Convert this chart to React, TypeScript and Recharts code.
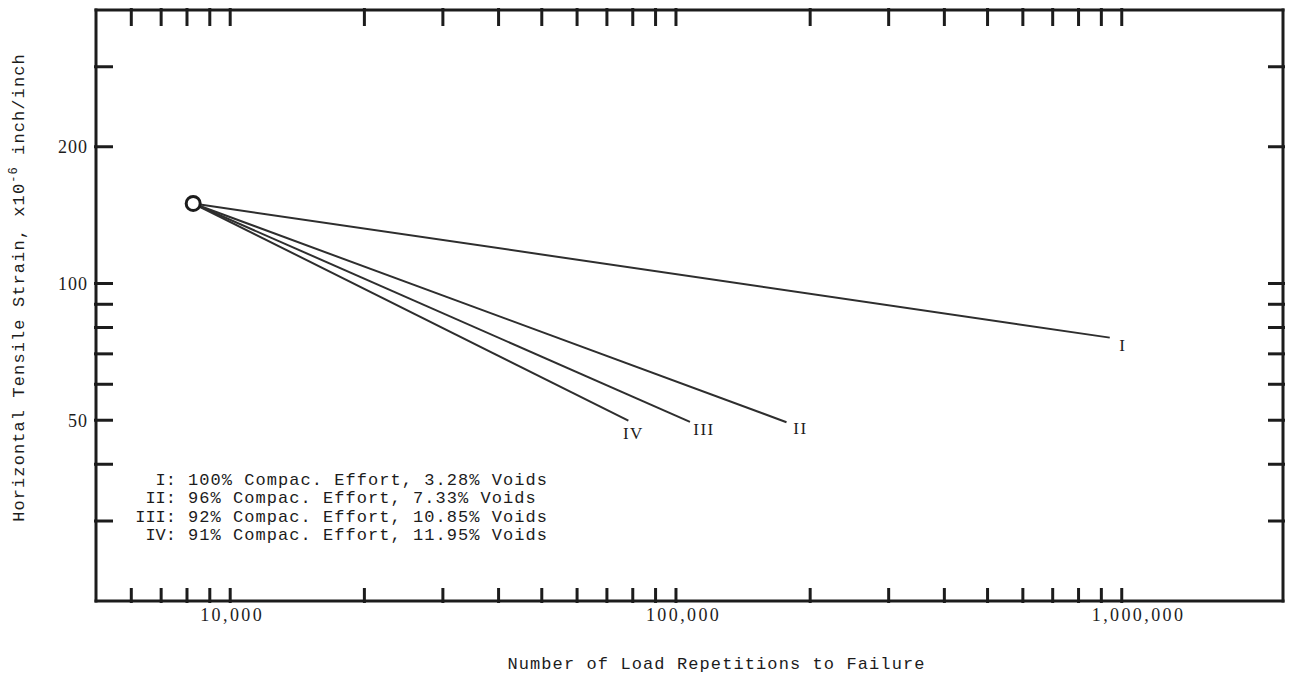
import { LineChart, Line, XAxis, YAxis, Legend } from 'recharts';

// fatigue lines, all starting from the same origin point
const seriesNames = ['I', 'II', 'III', 'IV'];
const compaction = ['100%', '96%', '92%', '91%'];
const voids = ['3.28%', '7.33%', '10.85%', '11.95%'];
const originReps = 8260;
const originStrain = 150;
const endReps = [940000, 177000, 107500, 78200];
const endStrain = [76, 49.5, 49.6, 49.9];

const xTicks = [
  6000, 7000, 8000, 9000, 10000, 20000, 30000, 40000, 50000, 60000, 70000, 80000, 90000,
  100000, 200000, 300000, 400000, 500000, 600000, 700000, 800000, 900000, 1000000,
];
const xLabelTicks = [10000, 100000, 1000000];
const yTicks = [30, 40, 50, 60, 70, 80, 90, 100, 200, 300];
const yLabelTicks = [50, 100, 200];

const series = seriesNames.map((name, i) => ({
  name,
  data: [
    { reps: originReps, strain: originStrain },
    { reps: endReps[i], strain: endStrain[i] },
  ],
}));

const X_DOMAIN = [5000, 2300000];
const Y_DOMAIN = [20, 400];
const INK = '#1c1c1c';
const LINE = '#2e2e2e';
const TICK_LEN = 17;
const MONO = '"Liberation Mono", "DejaVu Sans Mono", monospace';
const SERIF = '"Liberation Serif", "DejaVu Serif", serif';
// where each end label sits relative to its line end
const labelOffset = [[13, 7], [14, 6], [14, 7], [5, 12]];

const frame = { stroke: INK, strokeWidth: 3, strokeLinecap: 'square' as const };

const BottomTick = (p: any) => {
  const v = p.payload.value;
  return (
    <g>
      <line x1={p.x} y1={p.y} x2={p.x} y2={p.y - TICK_LEN + 2} stroke={INK} strokeWidth={3} />
      {xLabelTicks.includes(v) && (
        <text x={p.x - 30} y={p.y + 18} fontFamily={SERIF} fontSize={18} letterSpacing={2.4} fill={INK}>
          {v.toLocaleString('en-US')}
        </text>
      )}
    </g>
  );
};

const TopTick = (p: any) => (
  <line x1={p.x} y1={p.y} x2={p.x} y2={p.y + TICK_LEN + 1} stroke={INK} strokeWidth={3} />
);

const LeftTick = (p: any) => {
  const v = p.payload.value;
  return (
    <g>
      <line x1={p.x} y1={p.y} x2={p.x + TICK_LEN + 2} y2={p.y} stroke={INK} strokeWidth={3} />
      {yLabelTicks.includes(v) && (
        <text x={p.x - 6} y={p.y} dy="0.35em" textAnchor="end" fontFamily={SERIF} fontSize={18} letterSpacing={1} fill={INK}>
          {v}
        </text>
      )}
    </g>
  );
};

const RightTick = (p: any) => (
  <line x1={p.x} y1={p.y} x2={p.x - TICK_LEN} y2={p.y} stroke={INK} strokeWidth={3} />
);

const XTitle = (p: any) => {
  const vb = p.viewBox;
  return (
    <text x={vb.x + vb.width / 2 + 27} y={vb.y + 62} dy="0.35em" textAnchor="middle" fontFamily={MONO} fontSize={17} letterSpacing={1.1} fill={INK}>
      Number of Load Repetitions to Failure
    </text>
  );
};

const YTitle = (p: any) => {
  const vb = p.viewBox;
  const cx = vb.x + 18;
  const cy = vb.y + vb.height / 2 - 18;
  return (
    <text x={cx} y={cy} dy="0.35em" textAnchor="middle" transform={`rotate(-90, ${cx}, ${cy})`} fontFamily={MONO} fontSize={17} letterSpacing={1.1} fill={INK}>
      <tspan>Horizontal Tensile Strain, x10</tspan>
      <tspan dy={-7} fontSize={12}>-6</tspan>
      <tspan dy={7}> inch/inch</tspan>
    </text>
  );
};

const EndLabel = (i: number) => (p: any) =>
  p.index === 1 ? (
    <text x={p.x + labelOffset[i][0]} y={p.y + labelOffset[i][1]} dy="0.35em" textAnchor="middle" fontFamily={SERIF} fontSize={17} letterSpacing={1.5} fill={INK}>
      {seriesNames[i]}
    </text>
  ) : null;

const LegendBox = () => (
  <div style={{ fontFamily: MONO, fontSize: 17, letterSpacing: 1.05, lineHeight: '18.3px', color: INK, whiteSpace: 'pre' }}>
    {seriesNames.map((name, i) => (
      <div key={name} style={{ display: 'flex' }}>
        <span style={{ width: 56, textAlign: 'right', letterSpacing: 0 }}>{name}:</span>
        <span style={{ marginLeft: 12 }}>
          {compaction[i]} Compac. Effort, {voids[i]} Voids
        </span>
      </div>
    ))}
  </div>
);

const App = () => (
  <div style={{ position: 'absolute', left: 0, top: 0, background: '#fff' }}>
    <LineChart width={1290} height={679} margin={{ top: 0, right: 0, bottom: 0, left: 0 }}>
      <XAxis
        xAxisId="b" dataKey="reps" type="number" scale="log" domain={X_DOMAIN} allowDataOverflow
        ticks={xTicks} interval={0} orientation="bottom" height={78}
        tickSize={0} tickLine={false} axisLine={frame} tick={(p: any) => <BottomTick {...p} />}
        label={XTitle}
      />
      <XAxis
        xAxisId="t" dataKey="reps" type="number" scale="log" domain={X_DOMAIN} allowDataOverflow
        ticks={xTicks} interval={0} orientation="top" height={10}
        tickSize={0} tickLine={false} axisLine={frame} tick={(p: any) => <TopTick {...p} />}
      />
      <YAxis
        yAxisId="l" dataKey="strain" type="number" scale="log" domain={Y_DOMAIN} allowDataOverflow
        ticks={yTicks} interval={0} orientation="left" width={96}
        tickSize={0} tickLine={false} axisLine={frame} tick={(p: any) => <LeftTick {...p} />}
        label={YTitle}
      />
      <YAxis
        yAxisId="r" dataKey="strain" type="number" scale="log" domain={Y_DOMAIN} allowDataOverflow
        ticks={yTicks} interval={0} orientation="right" width={7}
        tickSize={0} tickLine={false} axisLine={frame} tick={(p: any) => <RightTick {...p} />}
      />
      <Legend
        layout="vertical" align="center" verticalAlign="middle"
        wrapperStyle={{ left: 120, top: 472, width: 470 }}
        content={LegendBox}
      />
      {series.map((s, i) => (
        <Line
          key={s.name} name={s.name} xAxisId="b" yAxisId="l" data={s.data} dataKey="strain"
          stroke={LINE} strokeWidth={2} dot={false} isAnimationActive={false}
          label={EndLabel(i)}
        />
      ))}
      <Line
        name="origin" xAxisId="b" yAxisId="l" data={[{ reps: originReps, strain: originStrain }]} dataKey="strain"
        stroke="none" dot={{ r: 7, fill: '#fff', stroke: INK, strokeWidth: 3 }}
        isAnimationActive={false} legendType="none"
      />
    </LineChart>
  </div>
);

export default App;
